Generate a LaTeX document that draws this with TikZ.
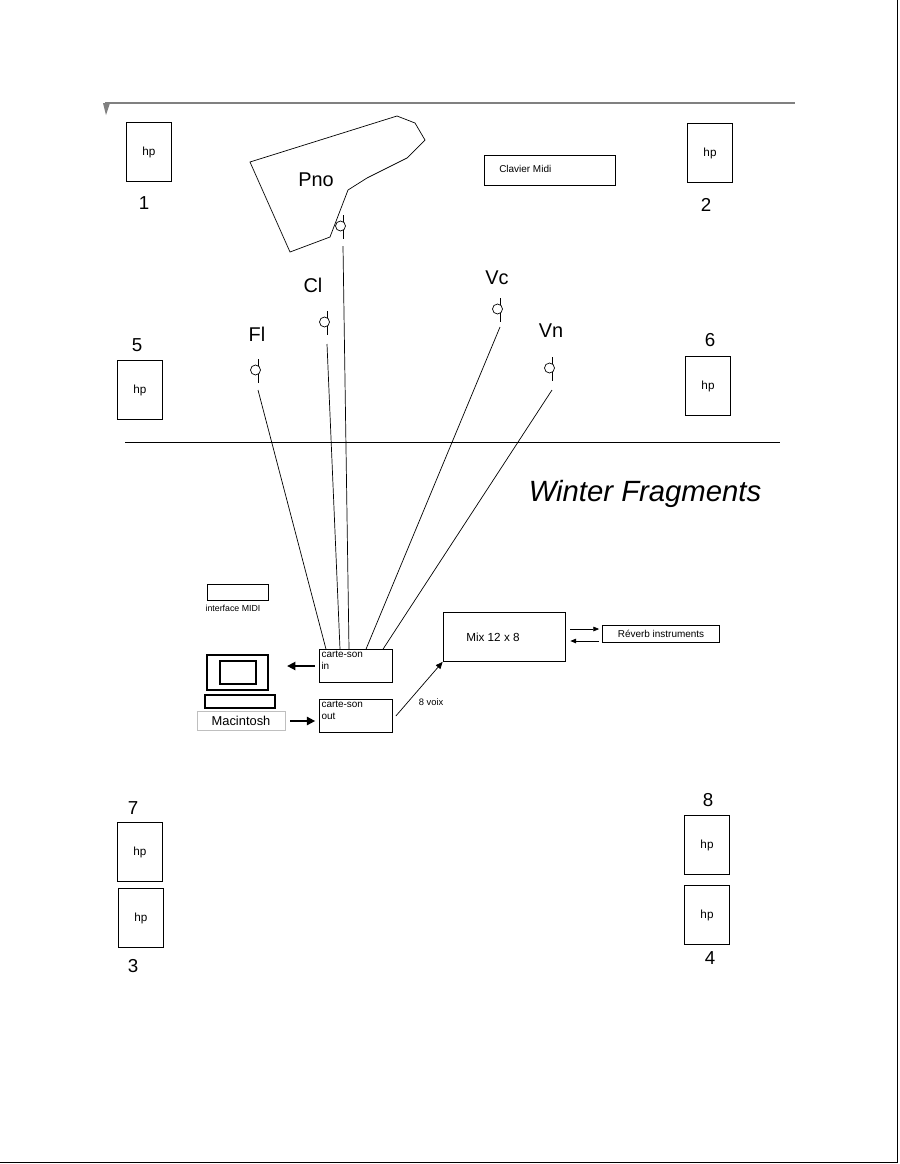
\documentclass[tikz,border=0pt]{standalone}
\usepackage{fontspec}
\setmainfont{Liberation Sans}
\usetikzlibrary{arrows.meta}
\tikzset{
  hp/.style={draw, minimum width=45*0.03cm, minimum height=59*0.03cm, font=\fontsize{10}{12}\selectfont},
  num/.style={font=\fontsize{16}{18}\selectfont},
  inst/.style={font=\fontsize{17}{20}\selectfont},
  small/.style={font=\fontsize{8.5}{9.5}\selectfont},
  cable/.style={line width=0.6pt},
  big/.style={-{Triangle[length=7pt,width=7pt]}, line width=1.4pt}
}
\newcommand{\micro}[2]{% mic at (#1) named #2
  \coordinate (#2) at (#1);
  \draw ([yshift=11*0.03cm]#2) -- ([yshift=-13*0.03cm]#2);
  \draw[fill=white] ([xshift=-2.5*0.03cm]#2) circle (5*0.03cm);
}
\begin{document}
\begin{tikzpicture}[x=0.03cm, y=-0.03cm, line width=0.6pt]
        \useasboundingbox (0,0) rectangle (900,1164);
        \draw[line width=0.8pt] (897,0) -- (897,1162) -- (0,1162);
        \draw[gray, line width=1.2pt] (105,103) -- (795,103);
        \fill[gray] (103,103) -- (110,103) -- (106,115) -- cycle;
        % loudspeakers
        \node[hp] (hp1) at (149,152) {hp};   \node[num] at (144,203) {1};
        \node[hp] (hp2) at (710,153) {hp};   \node[num] at (706,205) {2};
        \node[hp] (hp5) at (140,390) {hp};   \node[num] at (137,345) {5};
        \node[hp] (hp6) at (708,386) {hp};   \node[num] at (710,340) {6};
        \node[hp] (hp7) at (140,852) {hp};   \node[num] at (133,808) {7};
        \node[hp] (hp3) at (141,918) {hp};   \node[num] at (133,966) {3};
        \node[hp] (hp8) at (707,845) {hp};   \node[num] at (708,800) {8};
        \node[hp] (hp4) at (707,915) {hp};   \node[num] at (710,958) {4};
        % piano
        \draw (250,162) -- (397,116) -- (415,123) -- (425,140) -- (407,158) -- (367,178)
              -- (348,190) -- (330,237) -- (290,252) -- cycle;
        \node[inst] at (316,180) {Pno};
        \node[draw, minimum width=131*0.03cm, minimum height=30*0.03cm] (clav) at (550,170) {};
        \node[small, anchor=west] at (495,169) {Clavier Midi};
        % microphones
        \micro{343,226}{mpno}
        \micro{327,322}{mcl}   \node[inst] at (313,285) {Cl};
        \micro{258,370}{mfl}   \node[inst] at (257,334) {Fl};
        \micro{500,309}{mvc}   \node[inst] at (497,278) {Vc};
        \micro{552,368}{mvn}   \node[inst] at (551,331) {Vn};
        \draw (125,442) -- (780,442);
        \node[font=\fontsize{25}{30}\selectfont\itshape] at (645,494) {Winter Fragments};
        % equipment
        \node[draw, minimum width=61*0.03cm, minimum height=16*0.03cm] (midi) at (238,592) {};
        \node[font=\fontsize{7.5}{8}\selectfont] at (233,608) {interface MIDI};
        \node[draw, minimum width=73*0.03cm, minimum height=33*0.03cm] (cin) at (356,666) {};
        \node[small, align=left, anchor=north west, inner sep=1pt] at (320,650) {carte-son\\in};
        \node[draw, minimum width=73*0.03cm, minimum height=33*0.03cm] (cout) at (356,716) {};
        \node[small, align=left, anchor=north west, inner sep=1pt] at (320,700) {carte-son\\out};
        \node[draw, minimum width=122*0.03cm, minimum height=49*0.03cm] (mix) at (504,637) {};
        \node[font=\fontsize{10}{12}\selectfont, anchor=west] at (462,637) {Mix 12 x 8};
        \node[draw, minimum width=117*0.03cm, minimum height=17*0.03cm, small] (rev) at (661,634) {Réverb instruments};
        \draw[line width=1.3pt] (207,655) rectangle (268,690);
        \draw[line width=1.3pt] (220,661) rectangle (256,684);
        \draw[line width=1.3pt] (205,695) rectangle (275,708);
        \node[draw=gray!50, minimum width=88*0.03cm, minimum height=19*0.03cm, font=\fontsize{11}{13}\selectfont] (mac) at (241,721) {Macintosh};
        % cables
        \draw[cable] ([yshift=-20*0.03cm]mfl) -- ([xshift=-30*0.03cm]cin.north);
        \draw[cable] ([yshift=-22*0.03cm]mcl) -- ([xshift=-16*0.03cm]cin.north);
        \draw[cable] ([yshift=-20*0.03cm]mpno) -- ([xshift=-7*0.03cm]cin.north);
        \draw[cable] ([yshift=-18*0.03cm]mvc) -- ([xshift=10*0.03cm]cin.north);
        \draw[cable] ([yshift=-22*0.03cm]mvn) -- ([xshift=27*0.03cm]cin.north);
        \draw[big] ([xshift=-4*0.03cm]cin.west) -- ++(-28,0);
        \draw[big] ([xshift=5*0.03cm]mac.east) -- ([xshift=-4*0.03cm]cout.west |- mac.east);
        \draw[-{Triangle[length=6pt,width=5pt]}] ([xshift=3*0.03cm]cout.east) -- (mix.south west) node[pos=0.4, below right, font=\fontsize{8}{9}\selectfont] {8 voix};
        \draw[-{Triangle[length=5pt,width=4pt]}] ([shift={(5*0.03cm,8*0.03cm)}]mix.east) -- ([shift={(-3*0.03cm,5*0.03cm)}]rev.west);
        \draw[-{Triangle[length=5pt,width=4pt]}] ([shift={(-3*0.03cm,-7*0.03cm)}]rev.west) -- ([shift={(5*0.03cm,-4*0.03cm)}]mix.east);
    \end{tikzpicture}
\end{document}
